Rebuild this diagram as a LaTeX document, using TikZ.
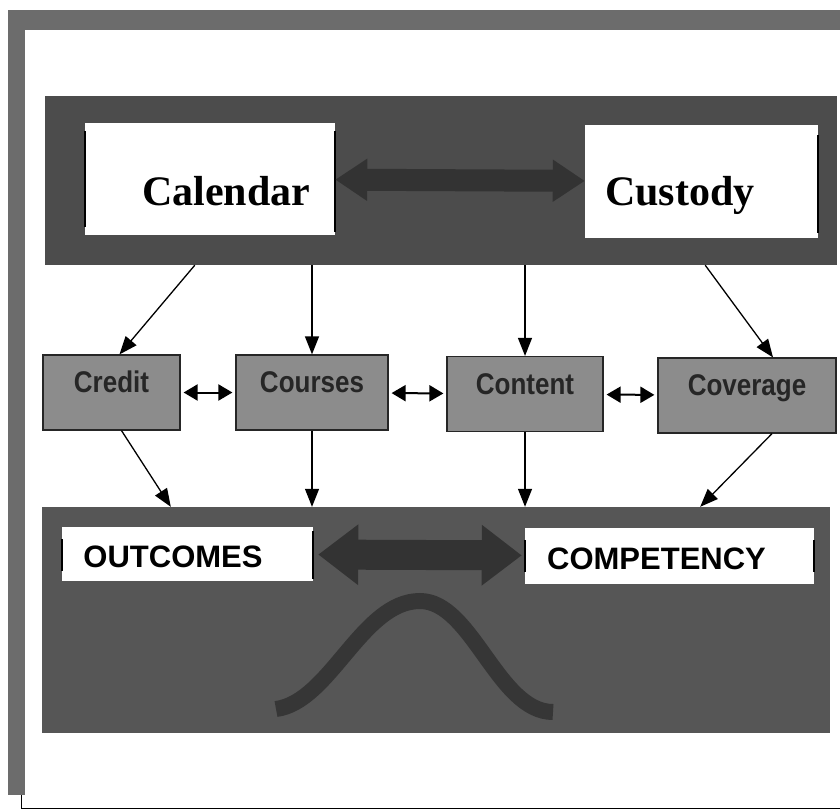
\documentclass[tikz,border=0pt]{standalone}
\usepackage{fontspec}
\usetikzlibrary{arrows.meta}

\newfontfamily\timesfont{Liberation Serif}
\newfontfamily\arialfont{Liberation Sans}

\definecolor{framegray}{HTML}{6C6C6C}
\definecolor{panelgray}{HTML}{4C4C4C}
\definecolor{panellight}{HTML}{565656}
\definecolor{boxgray}{HTML}{8C8C8C}
\definecolor{arrowdark}{HTML}{333333}
\definecolor{curvedark}{HTML}{363636}

% taller sans text, as in the boxes
\newcommand{\tallsans}[1]{\scalebox{1}[1.15]{#1}}

\tikzset{
    panel/.style={fill=panelgray, inner sep=0pt},
    box white/.style={fill=white, inner sep=0pt},
    box gray/.style={draw=black!85, line width=1.2pt, fill=boxgray, inner sep=0pt,
        minimum height=75pt, text height=18pt, text depth=18pt,
        font=\arialfont\bfseries\fontsize{26}{30}\selectfont, text=black!85},
    big label/.style={font=\timesfont\bfseries\fontsize{42}{48}\selectfont},
    caps label/.style={font=\arialfont\bfseries\fontsize{31}{36}\selectfont,
        text height=26pt, text depth=0pt, minimum height=54pt},
    side tick/.style={line width=2pt, black},
    arrow down/.style={-{Triangle[length=18pt,width=14pt]}, line width=1.3pt},
    arrow both/.style={{Triangle[length=14pt,width=16pt]}-{Triangle[length=14pt,width=16pt]},
        line width=2pt, shorten <=3pt, shorten >=3pt},
    arrow fat/.style={{Triangle[length=32pt,width=40pt]}-{Triangle[length=32pt,width=40pt]},
        line width=22pt, draw=arrowdark}
}

\begin{document}
\begin{tikzpicture}[x=1pt, y=-1pt]
    \useasboundingbox (0, 0) rectangle (840, 811);
    \fill[white] (0, 0) rectangle (840, 811);

    % Outer frame
    \fill[framegray] (8, 10) rectangle (840, 30);
    \fill[framegray] (8, 10) rectangle (25, 795);
    \draw[line width=1pt] (21, 795) -- (21, 808) -- (840, 808);

    % Top panel
    \node[panel, minimum width=792pt, minimum height=169pt] (toppanel) at (441, 180.5) {};
    \node[box white, big label, minimum width=250pt, minimum height=112pt,
        text height=54pt, text depth=2pt] (calendar) at (210, 179) {\hspace*{32pt}Calendar};
    \node[box white, big label, minimum width=233pt, minimum height=113pt,
        text height=50pt, text depth=3pt] (custody) at (701.5, 181.5) {Custody\hspace*{43pt}};
    \draw[side tick] ([yshift=-8pt]calendar.north west) -- ([yshift=8pt]calendar.south west);
    \draw[side tick] ([yshift=-8pt]calendar.north east) -- ([yshift=3pt]calendar.south east);
    \draw[side tick] ([yshift=-10pt]custody.north east) -- ([yshift=5pt]custody.south east);
    \draw[arrow fat] (calendar) -- (custody);

    % Middle row
    \node[box gray, minimum width=137pt] (credit) at (111.5, 392.5) {\tallsans{Credit}};
    \node[box gray, minimum width=152pt] (courses) at (312, 392.5) {\tallsans{Courses}};
    \node[box gray, minimum width=156pt] (content) at (525, 394) {\tallsans{Content}};
    \node[box gray, minimum width=178pt] (coverage) at (747, 395.5) {\tallsans{Coverage}};

    \draw[arrow both] (credit) -- (courses);
    \draw[arrow both] (courses) -- (content);
    \draw[arrow both] (content) -- (coverage);

    % Bottom panel
    \node[panel, fill=panellight, minimum width=788pt, minimum height=226pt] (botpanel) at (436, 620) {};
    \node[box white, caps label, minimum width=251pt] (outcomes) at (187.5, 554) {OUTCOMES\hspace*{29pt}};
    \node[box white, caps label, minimum width=289pt, minimum height=56pt] (competency) at (669.5, 556) {COMPETENCY\hspace*{26pt}};
    \draw[side tick] ([yshift=-12pt]outcomes.north west) -- ([yshift=10pt]outcomes.south west);
    \draw[side tick] ([yshift=-4pt]outcomes.north east) -- ([yshift=2pt]outcomes.south east);
    \draw[side tick] ([yshift=-12pt]competency.north west) -- ([yshift=12pt]competency.south west);
    \draw[side tick] ([yshift=-12pt]competency.north east) -- ([yshift=12pt]competency.south east);
    \draw[arrow fat, line width=30pt, {Triangle[length=40pt,width=58pt]}-{Triangle[length=40pt,width=58pt]},
        shorten <=5pt, shorten >=3pt] (outcomes) -- (competency);

    % bell curve
    \draw[curvedark, line width=16pt] (276, 709) .. controls (330, 702) and (362, 601) .. (420, 601)
        .. controls (472, 601) and (498, 712) .. (553, 712);

    % Top panel -> middle row
    \draw[arrow down] ([xshift=150pt]toppanel.south west) -- ([xshift=8pt]credit.north);
    \draw[arrow down] (toppanel.south -| courses.north) -- (courses.north);
    \draw[arrow down] (toppanel.south -| content.north) -- (content.north);
    \draw[arrow down] ([xshift=-132pt]toppanel.south east) -- ([xshift=26pt]coverage.north);

    % Middle row -> bottom panel
    \draw[arrow down] ([xshift=10pt]credit.south) -- ([xshift=129pt]botpanel.north west);
    \draw[arrow down] (courses.south) -- (botpanel.north -| courses.south);
    \draw[arrow down] (content.south) -- (botpanel.north -| content.south);
    \draw[arrow down] ([xshift=25pt]coverage.south) -- ([xshift=-130pt]botpanel.north east);
\end{tikzpicture}
\end{document}
